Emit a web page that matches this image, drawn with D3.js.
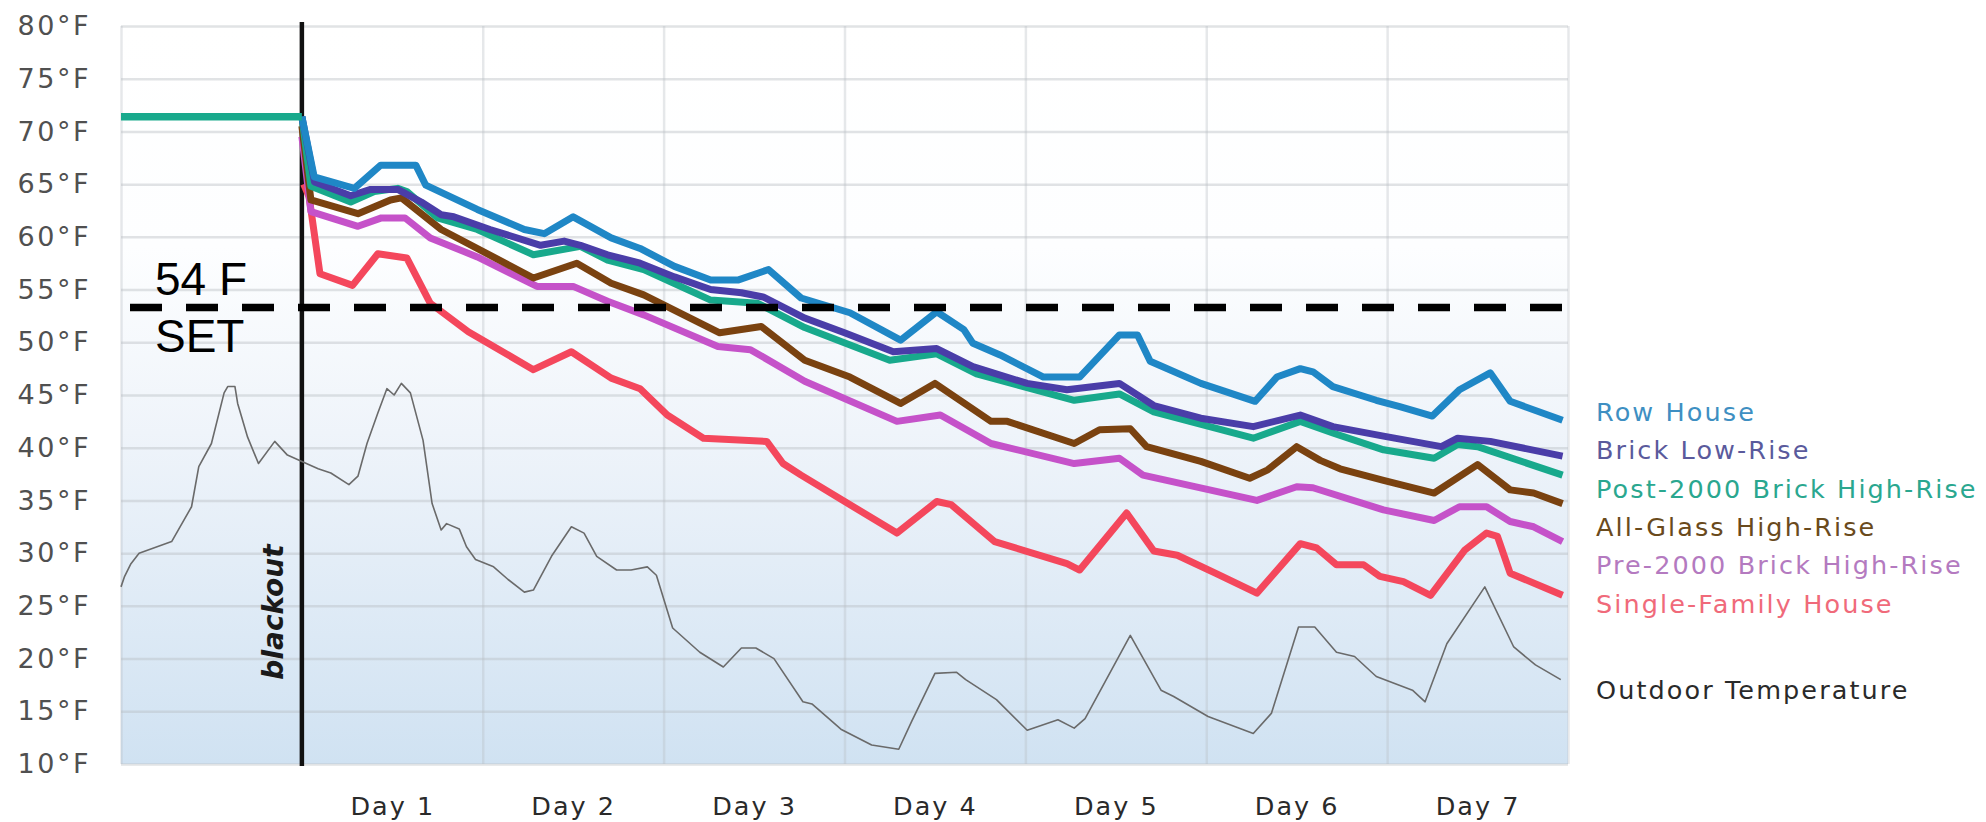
<!DOCTYPE html>
<html><head><meta charset="utf-8">
<script src="https://cdn.jsdelivr.net/npm/d3@7"></script>
<style>
body{margin:0;background:#fff;}
svg{display:block;}
</style></head><body>
<svg id="chart" width="1986" height="822"></svg>
<script>
// ---------- DATA ----------
const yTicks = [10,15,20,25,30,35,40,45,50,55,60,65,70,75,80];
const dayTicks = [0.5,1.5,2.5,3.5,4.5,5.5,6.5];
const dayLabels = ["Day 1","Day 2","Day 3","Day 4","Day 5","Day 6","Day 7"];
const dayBoundaries = [-1,1,2,3,4,5,6,7];
const blackoutDay = 0;
const setpoint = 53.3;
const setpointLabel = ["54 F","SET"];

const preBlackout = [[-1,71.4],[0,71.4]];

const rowHouse = [[0,71.4],[0.068,65.7],[0.29,64.6],[0.436,66.8],[0.63,66.8],[0.685,64.9],[0.97,62.6],[1.23,60.7],[1.34,60.3],[1.50,61.9],[1.71,59.9],[1.87,58.9],[2.06,57.2],[2.26,55.9],[2.41,55.9],[2.58,56.9],[2.76,54.2],[3.03,52.8],[3.31,50.2],[3.51,52.9],[3.66,51.2],[3.71,49.9],[3.86,48.8],[4.10,46.7],[4.30,46.7],[4.52,50.7],[4.62,50.7],[4.69,48.2],[4.97,46.1],[5.27,44.4],[5.39,46.7],[5.52,47.5],[5.59,47.2],[5.70,45.8],[5.94,44.5],[6.07,43.9],[6.25,43.0],[6.40,45.5],[6.57,47.1],[6.68,44.4],[6.97,42.6]];

const brickLowRise = [[0,71.4],[0.07,65.2],[0.27,63.9],[0.38,64.5],[0.53,64.5],[0.66,63.3],[0.77,62.1],[0.84,61.9],[1.04,60.7],[1.32,59.2],[1.45,59.6],[1.54,59.2],[1.69,58.3],[1.87,57.5],[2.06,56.2],[2.26,55.0],[2.43,54.7],[2.55,54.3],[2.78,52.3],[3.0,50.9],[3.27,49.1],[3.51,49.4],[3.71,47.7],[4.01,46.1],[4.23,45.5],[4.52,46.1],[4.71,44.0],[4.97,42.8],[5.26,42.0],[5.52,43.1],[5.70,42.0],[5.98,41.1],[6.30,40.1],[6.39,40.9],[6.57,40.6],[6.97,39.2]];

const post2000HighRise = [[0,71.4],[0.05,64.8],[0.27,63.3],[0.40,64.3],[0.53,64.6],[0.58,64.3],[0.75,61.8],[0.97,60.7],[1.28,58.3],[1.54,59.1],[1.69,57.8],[1.89,56.9],[2.26,54.0],[2.52,53.7],[2.78,51.4],[3.25,48.3],[3.51,48.9],[3.73,47.0],[4.27,44.5],[4.52,45.1],[4.71,43.4],[5.26,40.9],[5.52,42.5],[5.70,41.4],[5.98,39.8],[6.26,39.0],[6.39,40.3],[6.50,40.1],[6.97,37.4]];

const allGlassHighRise = [[0,70.5],[0.05,63.5],[0.31,62.2],[0.49,63.5],[0.55,63.7],[0.77,60.7],[1.28,56.1],[1.52,57.5],[1.71,55.6],[1.89,54.5],[2.31,50.9],[2.54,51.5],[2.78,48.3],[3.03,46.7],[3.31,44.2],[3.50,46.1],[3.81,42.5],[3.90,42.5],[4.27,40.4],[4.41,41.7],[4.58,41.8],[4.67,40.1],[4.97,38.7],[5.24,37.1],[5.34,37.9],[5.50,40.1],[5.63,38.8],[5.74,38.0],[5.98,36.9],[6.26,35.7],[6.50,38.4],[6.68,36.0],[6.81,35.7],[6.97,34.7]];

const pre2000HighRise = [[0,69.5],[0.05,62.4],[0.31,61.0],[0.44,61.8],[0.57,61.8],[0.71,59.9],[0.97,58.1],[1.30,55.3],[1.50,55.3],[1.69,53.9],[1.89,52.6],[2.30,49.6],[2.48,49.3],[2.78,46.3],[3.29,42.5],[3.53,43.1],[3.81,40.4],[4.27,38.5],[4.52,39.0],[4.65,37.4],[5.28,35.0],[5.50,36.3],[5.59,36.2],[5.98,34.1],[6.26,33.1],[6.40,34.4],[6.55,34.4],[6.68,33.0],[6.81,32.5],[6.97,31.1]];

const singleFamily = [[0.01,65.0],[0.04,63.8],[0.10,56.5],[0.28,55.4],[0.42,58.4],[0.58,58.0],[0.71,53.7],[0.92,51.0],[1.28,47.4],[1.49,49.1],[1.71,46.6],[1.87,45.6],[2.02,43.1],[2.22,40.9],[2.57,40.6],[2.66,38.5],[2.76,37.4],[3.29,31.9],[3.51,34.9],[3.59,34.6],[3.83,31.1],[4.23,29.0],[4.30,28.4],[4.56,33.8],[4.71,30.2],[4.84,29.8],[5.05,28.1],[5.28,26.2],[5.52,30.9],[5.61,30.5],[5.72,28.9],[5.87,28.9],[5.96,27.8],[6.09,27.3],[6.24,26.0],[6.43,30.3],[6.55,31.9],[6.61,31.6],[6.68,28.1],[6.97,26.0]];

const outdoor = [[-1,26.8],[-0.98,27.8],[-0.945,29.0],[-0.90,30.0],[-0.72,31.1],[-0.61,34.4],[-0.57,38.2],[-0.50,40.4],[-0.43,45.2],[-0.41,45.8],[-0.37,45.8],[-0.355,44.2],[-0.30,41.0],[-0.24,38.5],[-0.15,40.6],[-0.08,39.3],[0,38.7],[0.09,38.0],[0.16,37.6],[0.26,36.5],[0.31,37.3],[0.36,40.4],[0.42,43.3],[0.47,45.6],[0.51,45.0],[0.55,46.1],[0.60,45.2],[0.67,40.7],[0.72,34.7],[0.77,32.2],[0.80,32.8],[0.87,32.3],[0.91,30.6],[0.96,29.4],[1.06,28.7],[1.14,27.5],[1.23,26.3],[1.28,26.5],[1.38,29.7],[1.49,32.5],[1.56,31.9],[1.63,29.7],[1.74,28.4],[1.82,28.4],[1.91,28.7],[1.96,27.9],[2.05,22.9],[2.20,20.6],[2.33,19.2],[2.43,21.0],[2.51,21.0],[2.61,20.0],[2.77,15.9],[2.82,15.7],[2.98,13.3],[3.15,11.8],[3.30,11.4],[3.37,14.0],[3.50,18.6],[3.62,18.7],[3.67,18.0],[3.84,16.1],[4.01,13.2],[4.18,14.2],[4.27,13.4],[4.33,14.3],[4.58,22.2],[4.75,17.0],[4.82,16.4],[5.01,14.5],[5.26,12.9],[5.36,14.8],[5.51,23.0],[5.60,23.0],[5.72,20.6],[5.82,20.2],[5.94,18.3],[6.14,17.0],[6.21,15.9],[6.33,21.4],[6.54,26.8],[6.70,21.1],[6.82,19.4],[6.96,18.0]];

const seriesNames = ["Row House","Brick Low-Rise","Post-2000 Brick High-Rise","All-Glass High-Rise","Pre-2000 Brick High-Rise","Single-Family House"];
const seriesData = [rowHouse, brickLowRise, post2000HighRise, allGlassHighRise, pre2000HighRise, singleFamily];
const seriesColors = ["#1f87c6","#4a3da8","#18a98c","#7a4210","#c552c9","#f4475c"];
const legendColors = ["#3e8fc2","#5a5a9c","#2aa78f","#6a4a1c","#b47ac0","#f06a7a"];
const drawOrder = [5,4,3,2,1,0];
const outdoorName = "Outdoor Temperature";

// ---------- CHART ----------
const svg = d3.select("#chart");
const L = 121, R = 1568, T = 26, B = 764;
const x = d3.scaleLinear().domain([-1,7]).range([L,R]);
const y = d3.scaleLinear().domain([10,80]).range([B,T]);
const FONT = "'DejaVu Sans', sans-serif";

const defs = svg.append("defs");
const grad = defs.append("linearGradient").attr("id","bg").attr("x1",0).attr("y1",0).attr("x2",0).attr("y2",1);
grad.append("stop").attr("offset","0").attr("stop-color","#ffffff");
grad.append("stop").attr("offset","0.3").attr("stop-color","#fdfeff");
grad.append("stop").attr("offset","0.55").attr("stop-color","#eff4fa");
grad.append("stop").attr("offset","1").attr("stop-color","#d0e2f2");

svg.append("rect").attr("x",L).attr("y",T).attr("width",R-L).attr("height",B-T).attr("fill","url(#bg)");

// horizontal grid
const gy = svg.append("g").attr("transform",`translate(${L},0)`)
  .call(d3.axisLeft(y).tickValues(yTicks).tickSize(-(R-L)).tickFormat(""));
gy.select(".domain").remove();
gy.selectAll("line").attr("stroke","#b8bcc2").attr("stroke-opacity",0.42).attr("stroke-width",2.5);

// vertical grid
const gx = svg.append("g").attr("transform",`translate(0,${B})`)
  .call(d3.axisBottom(x).tickValues(dayBoundaries).tickSize(-(B-T)).tickFormat(""));
gx.select(".domain").remove();
gx.selectAll("line").attr("stroke","#b8bcc2").attr("stroke-opacity",0.35).attr("stroke-width",2.5);

// y labels
const ya = svg.append("g").attr("transform",`translate(${L},0)`)
  .call(d3.axisLeft(y).tickValues(yTicks).tickSize(0).tickPadding(30).tickFormat(d=>d+"°F"));
ya.select(".domain").remove();
ya.selectAll("text").attr("font-family",FONT).attr("font-size",27).attr("letter-spacing","2.5px").attr("fill","#505050");

// x labels
const xa = svg.append("g").attr("transform",`translate(0,${B})`)
  .call(d3.axisBottom(x).tickValues(dayTicks).tickSize(0).tickPadding(33).tickFormat((d,i)=>dayLabels[i]));
xa.select(".domain").remove();
xa.selectAll("text").attr("font-family",FONT).attr("font-size",25.5).attr("letter-spacing","2px").attr("fill","#2a2a2a");

// blackout line
svg.append("line").attr("x1",x(blackoutDay)).attr("x2",x(blackoutDay)).attr("y1",T-4).attr("y2",B+2)
  .attr("stroke","#111").attr("stroke-width",4.5);
svg.append("text").attr("transform",`translate(${x(blackoutDay)-19},612) rotate(-90)`)
  .attr("text-anchor","middle").attr("font-family",FONT).attr("font-size",28)
  .attr("font-weight","bold").attr("font-style","italic").attr("fill","#1a1a1a").text("blackout");

const line = d3.line().x(d=>x(d[0])).y(d=>y(d[1]));

// outdoor
svg.append("path").datum(outdoor).attr("d",line).attr("fill","none")
  .attr("stroke","#6a6a6a").attr("stroke-width",1.6).attr("stroke-linejoin","round");

// series
drawOrder.forEach(i=>{
  svg.append("path").datum(seriesData[i]).attr("d",line).attr("fill","none")
    .attr("stroke",seriesColors[i]).attr("stroke-width",7)
    .attr("stroke-linejoin","round").attr("stroke-linecap","butt");
});
svg.append("path").datum(preBlackout).attr("d",line).attr("fill","none")
  .attr("stroke",seriesColors[2]).attr("stroke-width",7.5);

// setpoint dashed line
svg.append("line").attr("x1",130).attr("x2",1562).attr("y1",y(setpoint)).attr("y2",y(setpoint))
  .attr("stroke","#000").attr("stroke-width",7.5).attr("stroke-dasharray","32 24");
svg.append("text").attr("x",155).attr("y",295).attr("font-family","'Liberation Sans', Arial, sans-serif")
  .attr("font-size",46).attr("fill","#000").text(setpointLabel[0]);
svg.append("text").attr("x",155).attr("y",352).attr("font-family","'Liberation Sans', Arial, sans-serif")
  .attr("font-size",46).attr("fill","#000").text(setpointLabel[1]);

// legend
const lg = svg.append("g");
seriesNames.forEach((n,i)=>{
  lg.append("text").attr("x",1596).attr("y",412+i*38.3).attr("dominant-baseline","central")
    .attr("font-family",FONT).attr("font-size",25.5).attr("letter-spacing","2.1px")
    .attr("fill",legendColors[i]).text(n);
});
lg.append("text").attr("x",1596).attr("y",690).attr("dominant-baseline","central")
  .attr("font-family",FONT).attr("font-size",25.5).attr("letter-spacing","2.1px")
  .attr("fill","#2a2a2a").text(outdoorName);
</script>
</body></html>
